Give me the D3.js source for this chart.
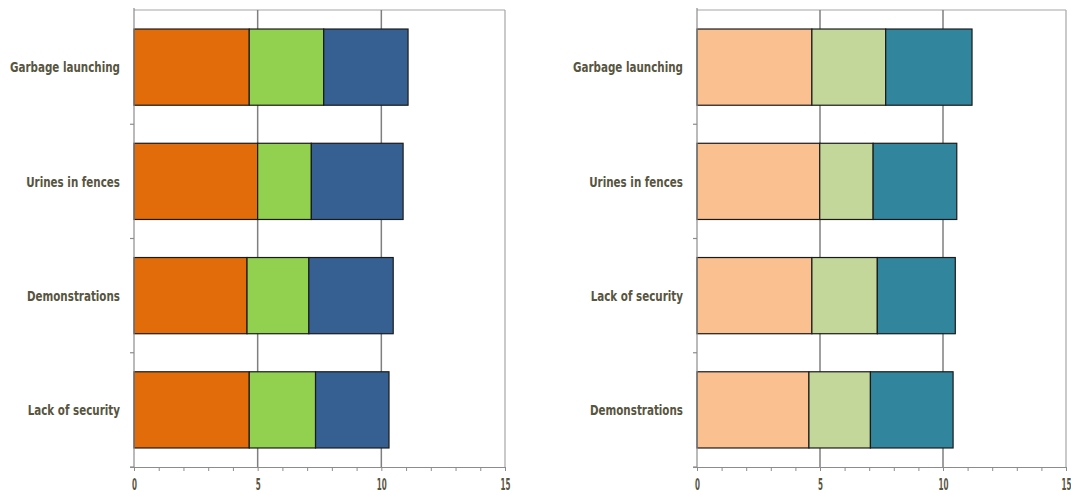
<!DOCTYPE html>
<html><head><meta charset="utf-8">
<script src="https://cdn.jsdelivr.net/npm/d3@7"></script>
<style>body{margin:0;background:#fff}svg{display:block}</style>
</head><body><svg id="c" width="1071" height="495"></svg>
<script>
const leftCategories = ["Garbage launching","Urines in fences","Demonstrations","Lack of security"];
const leftSeriesA = [4.66, 5.0, 4.57, 4.66];
const leftSeriesB = [3.01, 2.17, 2.5, 2.68];
const leftSeriesC = [3.41, 3.71, 3.41, 2.97];
const rightCategories = ["Garbage launching","Urines in fences","Lack of security","Demonstrations"];
const rightSeriesA = [4.67, 4.99, 4.67, 4.55];
const rightSeriesB = [3.0, 2.17, 2.66, 2.5];
const rightSeriesC = [3.51, 3.4, 3.17, 3.36];
const xTickLabels = [0, 5, 10, 15];
const leftColors = ["#E36C0A","#92D050","#366092"];
const rightColors = ["#FAC090","#C4D79B","#31859C"];

const svg = d3.select("#c");
const textColor = "#57553f";
const font = "'DejaVu Sans Condensed','DejaVu Sans',sans-serif";

function measure(str, size) {
  const t = svg.append("text").attr("font-family", font).attr("font-weight", "bold").attr("font-size", size).text(str);
  const w = t.node().getComputedTextLength();
  t.remove();
  return w;
}
const catSize = 14.5, tickSize = 15.5;
const catScale = 110 / measure("Garbage launching", catSize);
const tickScale = 10 / measure("10", tickSize);

function panel(x0, x1, cats, series, colors) {
  const top = 10, bottom = 467;
  const x = d3.scaleLinear().domain([0, 15]).range([x0, x1]);
  const y = d3.scaleBand().domain(cats).range([top, bottom]).paddingInner(0.333).paddingOuter(0.1665);
  const g = svg.append("g");
  g.append("line").attr("x1", x0).attr("x2", x1).attr("y1", top).attr("y2", top).attr("stroke", "#a6a6a6").attr("stroke-width", 1.2);
  g.append("line").attr("x1", x1).attr("x2", x1).attr("y1", top).attr("y2", bottom).attr("stroke", "#a6a6a6").attr("stroke-width", 1.2);
  g.selectAll(".grid").data([5, 10]).join("line")
    .attr("x1", d => x(d)).attr("x2", d => x(d)).attr("y1", top).attr("y2", bottom)
    .attr("stroke", "#7f7f7f").attr("stroke-width", 1.5);
  const rows = cats.map((c, i) => ({cat: c, vals: series.map(s => s[i])}));
  rows.forEach(r => {
    let acc = 0;
    r.vals.forEach((v, k) => {
      g.append("rect")
        .attr("x", x(acc)).attr("width", x(acc + v) - x(acc))
        .attr("y", y(r.cat)).attr("height", y.bandwidth())
        .attr("fill", colors[k]).attr("stroke", "#1a1a1a").attr("stroke-width", 1.2);
      acc += v;
    });
  });
  const xa = d3.axisBottom(x).tickValues(d3.range(0, 16)).tickSize(4)
    .tickFormat(d => xTickLabels.includes(d) ? d : "");
  const ax = g.append("g").attr("transform", `translate(0,${bottom})`).call(xa);
  ax.select(".domain").attr("d", `M${x0-4},0.5H${x1}`).attr("stroke", "#8c8c8c").attr("stroke-width", 1.2);
  ax.selectAll(".tick line").attr("stroke", "#8c8c8c");
  ax.selectAll(".tick text").attr("fill", textColor).attr("font-family", font)
    .attr("font-weight", "bold").attr("font-size", tickSize).attr("y", 12).attr("dy", "0.71em")
    .attr("transform", `scale(${tickScale},1)`);
  const la = g.append("g");
  la.append("line").attr("x1", x0).attr("x2", x0).attr("y1", top - 2).attr("y2", bottom)
    .attr("stroke", "#8c8c8c").attr("stroke-width", 1.2);
  la.selectAll("line.t").data(cats.map(c => y(c) + y.step() * (1 - y.paddingInner() / 2)))
    .join("line").attr("class", "t")
    .attr("x1", x0 - 4).attr("x2", x0).attr("y1", d => d).attr("y2", d => d)
    .attr("stroke", "#8c8c8c").attr("stroke-width", 1.2);
  la.selectAll("text").data(cats).join("text")
    .attr("transform", d => `translate(${x0 - 14},${y(d) + y.bandwidth() / 2}) scale(${catScale},1)`)
    .attr("text-anchor", "end").attr("dy", "0.36em")
    .attr("fill", textColor).attr("font-family", font).attr("font-weight", "bold").attr("font-size", catSize)
    .text(d => d);
}

panel(134, 505, leftCategories, [leftSeriesA, leftSeriesB, leftSeriesC], leftColors);
panel(697, 1066, rightCategories, [rightSeriesA, rightSeriesB, rightSeriesC], rightColors);
</script></body></html>
